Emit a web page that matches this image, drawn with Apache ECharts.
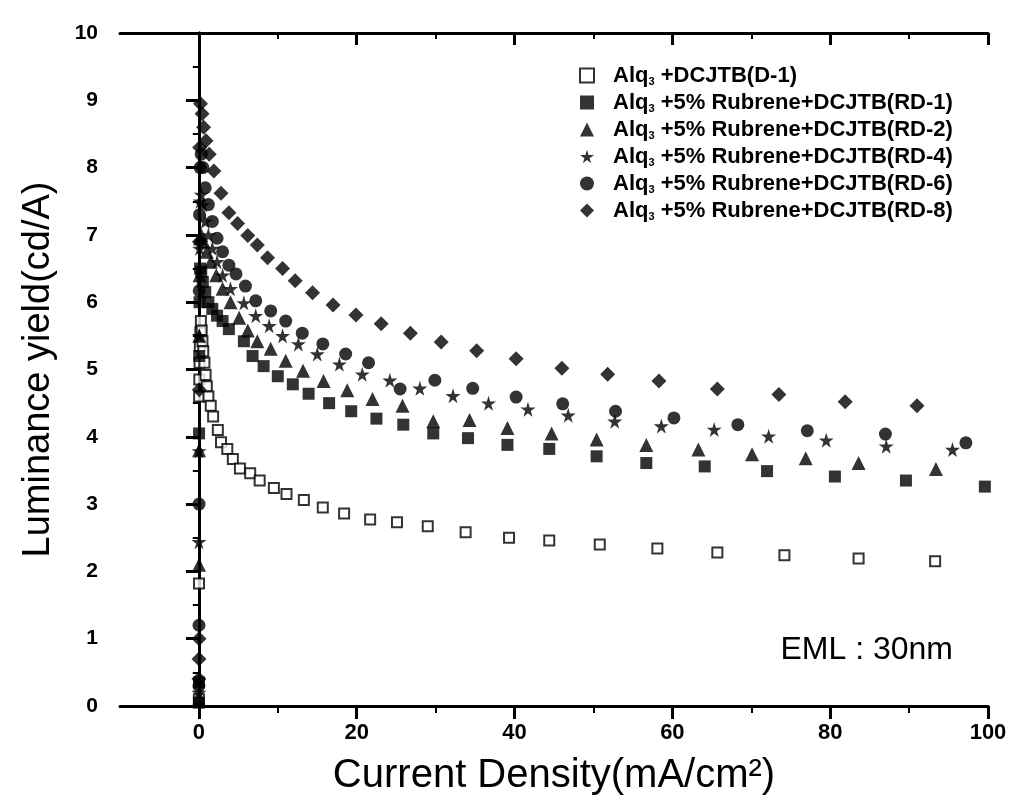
<!DOCTYPE html>
<html>
<head>
<meta charset="utf-8">
<script src="https://cdn.jsdelivr.net/npm/echarts@6/dist/echarts.min.js"></script>
<style>html,body{margin:0;padding:0;background:#fff}#c{width:1013px;height:806px}</style>
</head>
<body>
<div id="c"></div>
<script>
// ---- data (x: current density mA/cm2, y: luminance yield cd/A) ----
const seriesNames = [
  'Alq3+DCJTB(D-1)',
  'Alq3+5% Rubrene+DCJTB(RD-1)',
  'Alq3+5% Rubrene+DCJTB(RD-2)',
  'Alq3+5% Rubrene+DCJTB(RD-4)',
  'Alq3+5% Rubrene+DCJTB(RD-6)',
  'Alq3+5% Rubrene+DCJTB(RD-8)'
];
const legendSuffix = ['+DCJTB(D-1)', '+5% Rubrene+DCJTB(RD-1)', '+5% Rubrene+DCJTB(RD-2)',
  '+5% Rubrene+DCJTB(RD-4)', '+5% Rubrene+DCJTB(RD-6)', '+5% Rubrene+DCJTB(RD-8)'];

const D1 = [[0.0,0.1],[0.01,1.82],[0.03,4.6],[0.05,4.85],[0.08,5.1],[0.12,5.35],[0.18,5.55],[0.25,5.72],
  [0.35,5.58],[0.45,5.42],[0.55,5.27],[0.7,5.1],[0.85,4.92],[1.0,4.75],[1.2,4.6],
  [1.5,4.46],[1.8,4.3],[2.4,4.1],[2.8,3.92],[3.6,3.82],[4.3,3.67],[5.2,3.53],[6.5,3.46],[7.7,3.35],
  [9.5,3.24],[11.1,3.15],[13.3,3.06],[15.7,2.95],[18.4,2.86],[21.7,2.77],[25.1,2.73],[29.0,2.67],
  [33.8,2.58],[39.3,2.5],[44.4,2.46],[50.8,2.4],[58.1,2.34],[65.7,2.28],[74.2,2.24],[83.6,2.19],[93.3,2.15]];
const RD1 = [[0.0,0.05],[0.01,0.35],[0.02,4.05],[0.04,5.2],[0.08,6.0],[0.15,6.5],[0.3,6.45],[0.5,6.3],
  [0.8,6.15],[1.2,6.0],[1.7,5.9],[2.3,5.8],[3.0,5.72],[3.8,5.6],[5.7,5.42],[6.8,5.2],[8.2,5.05],
  [10.0,4.9],[11.9,4.78],[13.9,4.64],[16.5,4.5],[19.3,4.38],[22.5,4.27],[25.9,4.18],[29.7,4.05],
  [34.1,3.98],[39.1,3.88],[44.4,3.82],[50.4,3.71],[56.7,3.61],[64.1,3.56],[72.0,3.49],[80.6,3.41],
  [89.6,3.35],[99.6,3.26]];
const RD2 = [[0.0,0.1],[0.01,2.1],[0.02,3.8],[0.04,5.5],[0.08,6.4],[0.15,6.95],[0.3,7.0],[0.6,6.9],
  [1.0,6.75],[1.5,6.6],[2.2,6.4],[3.0,6.2],[4.0,6.0],[5.1,5.77],[6.2,5.58],[7.4,5.42],[9.1,5.31],
  [11.0,5.13],[13.2,4.98],[15.8,4.83],[18.8,4.69],[22.0,4.56],[25.8,4.46],[29.7,4.23],[34.3,4.25],
  [39.1,4.13],[44.7,4.05],[50.4,3.96],[56.7,3.88],[63.3,3.81],[70.1,3.74],[76.9,3.68],[83.6,3.61],
  [93.4,3.52]];
const RD4 = [[0.0,0.2],[0.01,2.44],[0.02,3.79],[0.04,5.5],[0.08,6.8],[0.15,7.5],[0.3,7.6],[0.5,7.45],
  [0.8,7.2],[1.2,7.0],[1.7,6.8],[2.3,6.6],[3.0,6.4],[4.0,6.2],[5.7,5.99],[7.2,5.8],[8.9,5.65],
  [10.6,5.5],[12.6,5.38],[15.0,5.23],[17.8,5.08],[20.7,4.93],[24.2,4.84],[28.0,4.72],[32.2,4.61],
  [36.7,4.5],[41.7,4.41],[46.8,4.32],[52.7,4.23],[58.6,4.16],[65.3,4.11],[72.2,4.01],[79.5,3.95],
  [87.1,3.86],[95.5,3.81]];
const RD6 = [[0.0,0.3],[0.01,1.2],[0.02,3.0],[0.04,6.17],[0.08,7.3],[0.15,8.0],[0.3,8.2],[0.5,8.0],
  [0.8,7.7],[1.2,7.45],[1.7,7.2],[2.3,6.95],[3.0,6.75],[3.8,6.55],[4.7,6.42],[5.9,6.24],[7.2,6.02],
  [9.1,5.87],[11.0,5.72],[13.1,5.54],[15.7,5.38],[18.6,5.23],[21.5,5.1],[25.5,4.71],[29.9,4.84],
  [34.7,4.72],[40.2,4.59],[46.1,4.49],[52.8,4.38],[60.2,4.28],[68.3,4.18],[77.1,4.09],[87.0,4.04],
  [97.2,3.91]];
const RD8 = [[0.0,0.4],[0.01,0.7],[0.02,1.0],[0.04,4.7],[0.06,6.9],[0.1,8.3],[0.2,8.95],[0.4,8.8],
  [0.6,8.6],[0.9,8.4],[1.3,8.2],[1.9,7.95],[2.8,7.62],[3.8,7.33],[4.9,7.17],[6.2,6.99],[7.4,6.85],
  [8.7,6.66],[10.6,6.5],[12.2,6.32],[14.4,6.14],[17.0,5.96],[19.9,5.81],[23.1,5.68],[26.8,5.54],
  [30.7,5.41],[35.2,5.28],[40.2,5.16],[46.0,5.02],[51.8,4.93],[58.3,4.83],[65.7,4.71],[73.5,4.63],
  [81.9,4.52],[91.0,4.46]];

const xMajorTicks = [0, 20, 40, 60, 80, 100];
const xMinorTicks = [10, 30, 50, 70, 90];

const STAR = 'path://M50,0 L61,35 L98,35 L68,57 L79,91 L50,70 L21,91 L32,57 L2,35 L39,35 Z';
const FONT = "'Liberation Sans', Arial, Helvetica, sans-serif";

const chart = echarts.init(document.getElementById('c'));
const baseX = { type: 'value', min: -10, max: 100, interval: 10, gridIndex: 0,
  splitLine: { show: false } };
const lineStyle = { color: '#000', width: 3 };

function mk(name, data, symbol, size, filled) {
  return {
    name, type: 'scatter', data, symbol, symbolSize: size, xAxisIndex: 0, yAxisIndex: 0,
    itemStyle: filled ? { color: '#000' } : { color: '#fff', borderColor: '#000', borderWidth: 2 },
    emphasis: { disabled: true }
  };
}

chart.setOption({
  animation: false,
  backgroundColor: '#fff',
  grid: { left: 120, right: 25, top: 33, bottom: 100 },
  legend: {
    orient: 'vertical', left: 574, top: 59,
    itemWidth: 14, itemHeight: 14, itemGap: 4,
    data: seriesNames,
    formatter: function (n) {
      const i = seriesNames.indexOf(n);
      return '{g|}{b|Alq}{s|3}{b| ' + legendSuffix[i] + '}';
    },
    textStyle: {
      color: '#000', fontFamily: FONT, fontWeight: 'bold', fontSize: 22,
      rich: {
        g: { width: 14, lineHeight: 24 },
        b: { fontFamily: FONT, fontWeight: 'bold', fontSize: 22, lineHeight: 24, color: '#000' },
        s: { fontFamily: FONT, fontWeight: 'bold', fontSize: 11, lineHeight: 24, color: '#000', padding: [12, 0, 0, 0] }
      }
    }
  },
  xAxis: [
    Object.assign({}, baseX, {
      position: 'bottom',
      name: 'Current Density(mA/cm²)', nameLocation: 'middle', nameGap: 50,
      nameTextStyle: { fontFamily: FONT, fontSize: 40, color: '#000' },
      axisLine: { show: true, lineStyle },
      axisTick: { show: true, inside: false, length: 13, customValues: xMajorTicks, lineStyle: { color: '#000', width: 3 } },
      axisLabel: { show: true, customValues: xMajorTicks, margin: 16, color: '#000', fontFamily: FONT, fontWeight: 'bold', fontSize: 22 }
    }),
    Object.assign({}, baseX, {
      position: 'bottom',
      axisLine: { show: false },
      axisTick: { show: true, inside: false, length: 7, customValues: xMinorTicks, lineStyle: { color: '#000', width: 2 } },
      axisLabel: { show: false }
    }),
    Object.assign({}, baseX, {
      position: 'top',
      axisLine: { show: true, lineStyle },
      axisTick: { show: true, inside: true, length: 12, customValues: xMajorTicks, lineStyle: { color: '#000', width: 3 } },
      axisLabel: { show: false }
    }),
    Object.assign({}, baseX, {
      position: 'top',
      axisLine: { show: false },
      axisTick: { show: true, inside: true, length: 6, customValues: xMinorTicks, lineStyle: { color: '#000', width: 2 } },
      axisLabel: { show: false }
    })
  ],
  yAxis: [
    {
      type: 'value', min: 0, max: 10, interval: 1, position: 'left',
      name: 'Luminance yield(cd/A)', nameLocation: 'middle', nameGap: 62, nameRotate: 90,
      nameTextStyle: { fontFamily: FONT, fontSize: 38, color: '#000' },
      splitLine: { show: false },
      axisLine: { show: true, lineStyle },
      axisTick: { show: true, inside: false, length: 13, lineStyle: { color: '#000', width: 3 } },
      minorTick: { show: true, splitNumber: 2, length: 6, lineStyle: { color: '#000', width: 2 } },
      axisLabel: { margin: 22, color: '#000', fontFamily: FONT, fontWeight: 'bold', fontSize: 21 }
    },
    {
      type: 'value', min: 0, max: 10, interval: 1, position: 'right',
      splitLine: { show: false },
      axisLine: { show: true, lineStyle },
      axisTick: { show: true, inside: true, length: 12, lineStyle: { color: '#000', width: 3 } },
      minorTick: { show: true, splitNumber: 2, length: 6, lineStyle: { color: '#000', width: 2 } },
      axisLabel: { show: false }
    }
  ],
  graphic: [{
    type: 'text', right: 60, top: 634,
    style: { text: 'EML : 30nm', fontFamily: FONT, fontSize: 32, fill: '#000' }
  }],
  series: [
    mk(seriesNames[0], D1, 'rect', 10, false),
    mk(seriesNames[1], RD1, 'rect', 12, true),
    mk(seriesNames[2], RD2, 'triangle', 14, true),
    mk(seriesNames[3], RD4, STAR, 15, true),
    mk(seriesNames[4], RD6, 'circle', 13, true),
    mk(seriesNames[5], RD8, 'diamond', 15, true)
  ]
});
</script>
</body>
</html>
